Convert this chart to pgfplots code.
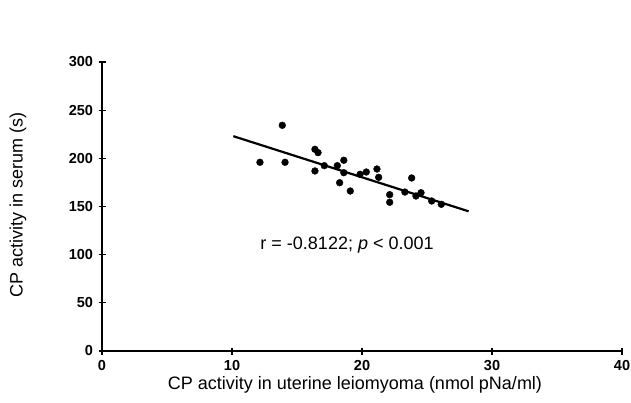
\documentclass[border=0pt]{standalone}
\usepackage{pgfplots}
\pgfplotsset{compat=1.18}
\usepackage{fontspec}
\setmainfont{Liberation Sans}
\begin{document}
\begin{tikzpicture}[x=1pt,y=1pt]
\useasboundingbox (0,0) rectangle (631,402);
\begin{axis}[
  at={(102pt,51pt)}, anchor=south west,
  scale only axis, width=520pt, height=289pt,
  xmin=0, xmax=40, ymin=0, ymax=300,
  axis lines=left,
  axis line style={line width=1.3pt, -},
  xtick={0,10,20,30,40}, ytick={0,50,100,150,200,250,300},
  tick align=center, major tick length=7pt,
  tick style={line width=1.1pt, black},
  /pgf/number format/assume math mode=true,
  ticklabel style={font=\bfseries\fontsize{14.5}{15}\selectfont},
  xticklabel style={yshift=-2pt},
  yticklabel style={xshift=-2pt},
  clip=false,
]
\addplot[only marks, mark=*, mark size=3.4pt, black] coordinates {
(13.87,234.3) (12.15,195.9) (14.08,195.9) (16.38,209.4) (16.62,205.9)
(16.38,186.9) (17.1,192.4) (18.1,192.4) (18.6,198) (18.6,185.1)
(18.28,174.7) (19.1,166.1) (19.85,183.4) (20.33,185.8) (21.15,188.9)
(21.28,180.3) (22.13,162.3) (22.13,154.4) (23.3,165) (23.82,179.6)
(24.15,160.9) (24.54,164.3) (25.36,155.7) (26.1,152.3)
};
\addplot[black, line width=2.2pt] coordinates {(10.1,223) (28.2,145)};
\node[font=\fontsize{18}{21}\selectfont] at (axis cs:18.85,110) {r = -0.8122; \textit{p} < 0.001};
\end{axis}
\node[font=\fontsize{18}{21}\selectfont] at (355,17) {CP activity in uterine leiomyoma (nmol pNa/ml)};
\node[font=\fontsize{18}{21}\selectfont, rotate=90] at (18,197) {CP activity in serum (s)};
\end{tikzpicture}
\end{document}
